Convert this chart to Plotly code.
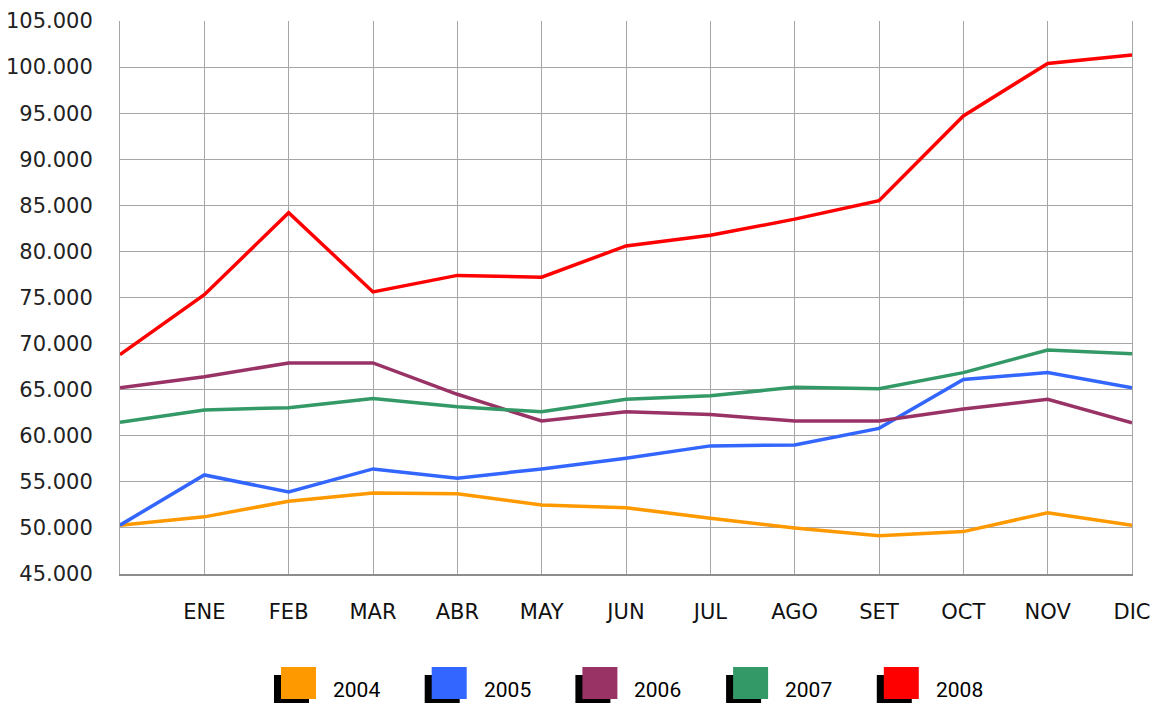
import plotly.graph_objects as go

months = ["", "ENE", "FEB", "MAR", "ABR", "MAY", "JUN", "JUL", "AGO", "SET", "OCT", "NOV", "DIC"]
years = ["2004", "2005", "2006", "2007", "2008"]

v2004 = [50300, 51200, 52900, 53800, 53700, 52500, 52200, 51050, 50000, 49150, 49600, 51650, 50300]
v2005 = [50300, 55750, 53900, 56400, 55400, 56400, 57550, 58900, 59000, 60800, 66100, 66850, 65200]
v2006 = [65200, 66400, 67900, 67900, 64500, 61600, 62600, 62300, 61600, 61600, 62900, 63950, 61400]
v2007 = [61450, 62800, 63050, 64050, 63150, 62600, 63950, 64350, 65250, 65100, 66850, 69300, 68900]
v2008 = [68800, 75300, 84200, 75600, 77400, 77200, 80600, 81750, 83500, 85500, 94700, 100400, 101300]

series = [v2004, v2005, v2006, v2007, v2008]
colors = ["#FF9900", "#3366FF", "#993366", "#339966", "#FF0000"]

y_ticks = list(range(45000, 105001, 5000))

W, H = 1152, 703
L, R, T, B = 120, 20, 21, 129
pw, ph = W - L - R, H - T - B

fig = go.Figure()
xs = list(range(len(months)))
for name, vals, col in zip(years, series, colors):
    fig.add_trace(go.Scatter(x=xs, y=vals, mode="lines", name=name,
                             line=dict(color=col, width=3.5), showlegend=False))

def px_x(p):
    return (p - L) / pw

def px_y(p):
    return (H - B - p) / ph

shapes = []
annotations = []
sq_w, sq_h = 35, 32
for i, (name, col) in enumerate(zip(years, colors)):
    x0 = 281 + 150.7 * i
    y0 = 667
    shapes.append(dict(type="rect", xref="paper", yref="paper",
                       x0=px_x(x0 - 7), x1=px_x(x0 - 7 + sq_w),
                       y0=px_y(y0 + 8 + sq_h), y1=px_y(y0 + 8),
                       fillcolor="#000000", line=dict(width=0), layer="above"))
    shapes.append(dict(type="rect", xref="paper", yref="paper",
                       x0=px_x(x0), x1=px_x(x0 + sq_w),
                       y0=px_y(y0 + sq_h), y1=px_y(y0),
                       fillcolor=col, line=dict(width=0), layer="above"))
    annotations.append(dict(xref="paper", yref="paper", x=px_x(x0 + 50), y=px_y(690),
                            xanchor="left", yanchor="middle", showarrow=False, text=name,
                            font=dict(family="Liberation Sans Narrow, Roboto, sans-serif",
                                      size=21, color="#000000")))

fig.update_layout(
    width=W, height=H,
    margin=dict(l=L, r=R, t=T, b=B, autoexpand=False),
    paper_bgcolor="white", plot_bgcolor="white",
    separators=",.",
    shapes=shapes, annotations=annotations,
    showlegend=False,
)
fig.update_xaxes(
    range=[0, 12], tickvals=xs, ticktext=months, automargin=False,
    showgrid=True, gridcolor="#a6a6a6", gridwidth=1,
    showline=True, linecolor="#8c8c8c", linewidth=2,
    zeroline=False, ticks="", ticklabelstandoff=18,
    tickfont=dict(family="DejaVu Sans, sans-serif", size=21, color="#111111"),
)
fig.update_yaxes(
    range=[45000, 105000], tickvals=y_ticks, tickformat=",.0f", automargin=False,
    showgrid=True, gridcolor="#a6a6a6", gridwidth=1,
    showline=True, linecolor="#a6a6a6", linewidth=1, mirror=True,
    zeroline=False, ticks="", ticklabelstandoff=22,
    tickfont=dict(family="DejaVu Sans, sans-serif", size=21, color="#222222"),
)

fig.write_html("out.html", config={"displayModeBar": False},
               post_script="document.body.style.margin='0';document.body.style.padding='0';")
